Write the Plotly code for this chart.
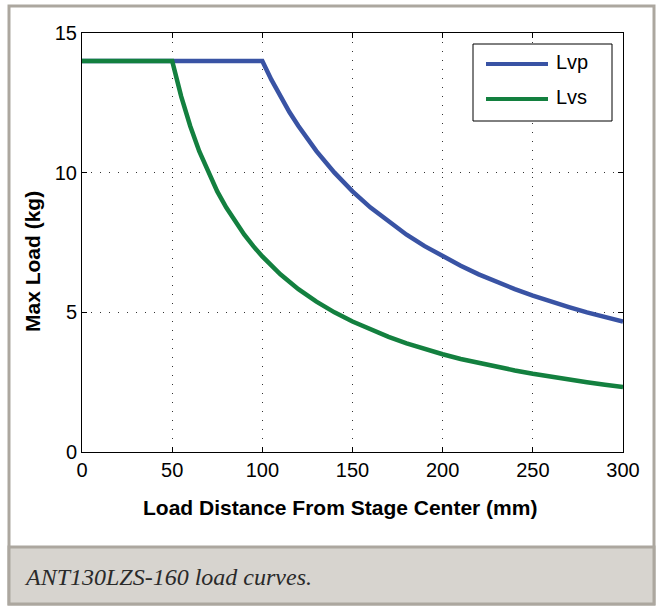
import plotly.graph_objects as go

# Load curves
lvp_x = [0, 100, 105, 110, 115, 120, 125, 130, 140, 150, 160, 170, 180, 190, 200,
         210, 220, 230, 240, 250, 260, 270, 280, 290, 300]
lvp_y = [14.0, 14.0, 13.33, 12.73, 12.17, 11.67, 11.2, 10.77, 10.0, 9.33, 8.75, 8.24,
         7.78, 7.37, 7.0, 6.67, 6.36, 6.09, 5.83, 5.6, 5.38, 5.19, 5.0, 4.83, 4.67]

lvs_x = [0, 50, 55, 60, 65, 70, 75, 80, 85, 90, 95, 100, 110, 120, 130, 140, 150,
         160, 170, 180, 190, 200, 210, 220, 230, 240, 250, 260, 270, 280, 290, 300]
lvs_y = [14.0, 14.0, 12.73, 11.67, 10.77, 10.0, 9.33, 8.75, 8.24, 7.78, 7.37, 7.0,
         6.36, 5.83, 5.38, 5.0, 4.67, 4.38, 4.12, 3.89, 3.68, 3.5, 3.33, 3.18, 3.04,
         2.92, 2.8, 2.69, 2.59, 2.5, 2.41, 2.33]

x_ticks = [0, 50, 100, 150, 200, 250, 300]
y_ticks = [0, 5, 10, 15]

BLUE = "#3953a4"
GREEN = "#13803f"
FONT = "Liberation Sans, Arial, sans-serif"

W, H = 658, 606
L, R, T, B = 82, 623, 33, 452  # plot area in pixels


def px(x):
    return (x - L) / (R - L)


def py(y):
    return (B - y) / (B - T)


fig = go.Figure()
fig.add_trace(go.Scatter(x=lvp_x, y=lvp_y, mode="lines", name="Lvp",
                         line=dict(color=BLUE, width=4.5), showlegend=False))
fig.add_trace(go.Scatter(x=lvs_x, y=lvs_y, mode="lines", name="Lvs",
                         line=dict(color=GREEN, width=4.5), showlegend=False))

axis_common = dict(
    showline=True, linecolor="black", linewidth=1, mirror="ticks",
    ticks="inside", ticklen=5, tickcolor="black",
    showgrid=True, gridcolor="#333333", gridwidth=1, griddash="1px,8px",
    zeroline=False, tickfont=dict(family=FONT, size=20, color="black"),
)
fig.update_xaxes(range=[0, 300], tickvals=x_ticks, **axis_common)
fig.update_yaxes(range=[0, 15], tickvals=y_ticks, **axis_common)

shapes = [
    # outer frame
    dict(type="rect", xref="paper", yref="paper", x0=px(9), x1=px(654), y0=py(6), y1=py(604),
         line=dict(color="#aca79f", width=3), fillcolor="rgba(0,0,0,0)", layer="below"),
    # caption strip
    dict(type="rect", xref="paper", yref="paper", x0=px(9), x1=px(654), y0=py(547), y1=py(604),
         line=dict(color="#aca79f", width=3), fillcolor="#d7d4cf", layer="below"),
    # legend box
    dict(type="rect", xref="paper", yref="paper", x0=px(473), x1=px(612), y0=py(44), y1=py(121),
         line=dict(color="black", width=1), fillcolor="white"),
    dict(type="line", xref="paper", yref="paper", x0=px(486), x1=px(548), y0=py(64), y1=py(64),
         line=dict(color=BLUE, width=4)),
    dict(type="line", xref="paper", yref="paper", x0=px(486), x1=px(548), y0=py(99), y1=py(99),
         line=dict(color=GREEN, width=4)),
]

annotations = [
    dict(text="Lvp", x=px(554), y=py(62), xref="paper", yref="paper", showarrow=False,
         xanchor="left", yanchor="middle", font=dict(family=FONT, size=20, color="black")),
    dict(text="Lvs", x=px(554), y=py(97), xref="paper", yref="paper", showarrow=False,
         xanchor="left", yanchor="middle", font=dict(family=FONT, size=20, color="black")),
    dict(text="<b>Load Distance From Stage Center (mm)</b>", x=px(340), y=py(507),
         xref="paper", yref="paper", showarrow=False, xanchor="center", yanchor="middle",
         font=dict(family=FONT, size=21, color="black")),
    dict(text="<b>Max Load (kg)</b>", x=px(32), y=py(262), xref="paper", yref="paper",
         showarrow=False, textangle=-90, xanchor="center", yanchor="middle",
         font=dict(family=FONT, size=21, color="black")),
    dict(text="<i>ANT130LZS-160 load curves.</i>", x=px(22), y=py(577), xref="paper",
         yref="paper", showarrow=False, xanchor="left", yanchor="middle",
         font=dict(family="Liberation Serif, Times New Roman, serif", size=24, color="#2a2a2a")),
]

fig.update_layout(
    width=W, height=H,
    margin=dict(l=L, r=W - R, t=T, b=H - B),
    paper_bgcolor="white", plot_bgcolor="white",
    shapes=shapes, annotations=annotations,
    showlegend=False,
)

# drop the browser's default body margin so the figure sits at the page corner
fig.write_html("out.html", config={"displayModeBar": False},
               post_script="document.body.style.margin='0';")
